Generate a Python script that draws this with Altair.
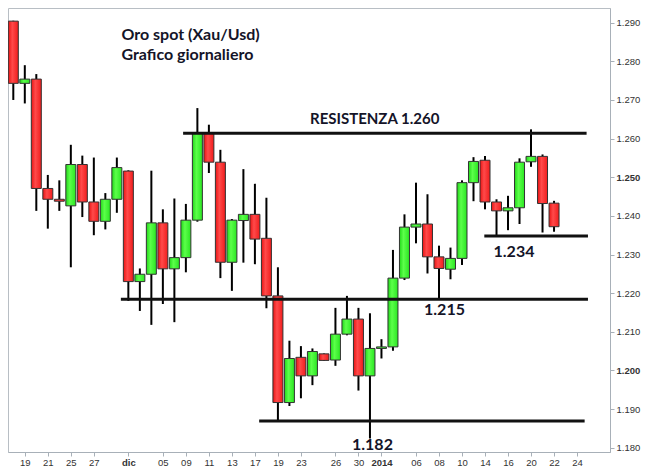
import json
import altair as alt
import pandas as pd

# ---- data ----
idx = list(range(48))
open_ = [1290.4, 1274.3, 1275.4, 1247.1, 1244.3, 1242.6, 1253.3, 1243.6, 1238.6, 1244.3,
         1251.6, 1223.0, 1224.9, 1238.2, 1226.3, 1229.2, 1238.9, 1261.4, 1253.9, 1228.0,
         1238.8, 1240.4, 1234.2, 1219.3, 1191.7, 1203.4, 1198.6, 1204.3, 1202.7, 1209.4,
         1213.3, 1198.6, 1205.7, 1206.1, 1223.9, 1237.1, 1237.9, 1229.4, 1226.2, 1229.0,
         1248.6, 1254.4, 1243.6, 1241.3, 1242.1, 1254.0, 1255.4, 1243.3]
high = [1290.5, 1279.0, 1276.7, 1250.6, 1249.2, 1258.4, 1255.6, 1255.1, 1245.9, 1255.1,
        1251.8, 1226.4, 1251.7, 1241.7, 1244.5, 1243.1, 1267.9, 1263.6, 1257.1, 1239.2,
        1252.1, 1248.3, 1244.7, 1226.7, 1207.7, 1206.3, 1205.7, 1204.4, 1216.2, 1219.3,
        1216.2, 1214.8, 1208.1, 1231.2, 1240.4, 1248.6, 1245.6, 1232.3, 1231.8, 1249.2,
        1255.2, 1255.5, 1244.3, 1245.2, 1254.9, 1262.4, 1255.9, 1243.9]
low = [1270.0, 1269.1, 1241.3, 1236.7, 1241.3, 1226.7, 1239.7, 1235.0, 1236.5, 1240.8,
       1218.0, 1215.4, 1211.8, 1217.2, 1212.5, 1225.4, 1238.5, 1251.1, 1223.9, 1220.6,
       1227.9, 1227.5, 1216.1, 1186.9, 1190.8, 1192.8, 1196.2, 1202.5, 1201.2, 1209.1,
       1194.8, 1182.4, 1203.1, 1205.1, 1223.4, 1232.9, 1225.1, 1218.5, 1223.6, 1227.3,
       1243.8, 1241.7, 1234.8, 1236.3, 1237.9, 1252.7, 1235.7, 1235.9]
close = [1274.3, 1275.4, 1247.1, 1244.3, 1243.8, 1253.3, 1243.6, 1238.6, 1244.3, 1252.5,
         1223.0, 1224.9, 1238.2, 1226.3, 1229.2, 1238.9, 1261.4, 1253.9, 1228.0, 1238.9,
         1240.4, 1234.0, 1219.3, 1191.7, 1203.1, 1198.6, 1204.9, 1202.6, 1209.4, 1213.3,
         1198.6, 1205.7, 1206.1, 1223.9, 1237.1, 1237.9, 1229.4, 1226.4, 1229.0, 1248.6,
         1254.1, 1243.6, 1241.3, 1242.1, 1253.9, 1255.4, 1243.2, 1237.2]

# x tick positions (trading-day index) and labels
tick_idx = [1, 3, 5, 7, 10, 13, 15, 17, 19, 21, 23, 25, 28, 30, 32, 35, 37, 39, 41, 43, 45, 47, 49]
tick_lab = ["19", "21", "25", "27", "dic", "05", "09", "11", "13", "17", "19", "23", "26", "30",
            "2014", "06", "08", "10", "14", "16", "20", "22", "24"]
bold_x = [10, 32]

y_ticks = [1180, 1190, 1200, 1210, 1220, 1230, 1240, 1250, 1260, 1270, 1280, 1290]
bold_y = [1200, 1250]

# support / resistance lines
line_level = [1261.4, 1218.4, 1186.9, 1234.8]
line_start = [14.76, 9.35, 21.37, 40.94]
line_end = [49.83, 49.95, 49.66, 49.95]

# annotations
title_text = ["Oro spot (Xau/Usd)", "Grafico giornaliero"]
title_x = [9.40, 9.40]
title_y = [1285.5, 1280.35]
ann_text = ["RESISTENZA 1.260", "1.215", "1.234", "1.182"]
ann_x = [25.79, 35.70, 41.74, 29.44]
ann_y = [1263.8, 1214.33, 1229.44, 1179.3]
ann_size = [15, 16, 16, 16]

df = pd.DataFrame({"i": idx, "open": open_, "high": high, "low": low, "close": close})
lines_df = pd.DataFrame({"level": line_level, "x0": line_start, "x1": line_end})
title_df = pd.DataFrame({"t": title_text, "x": title_x, "y": title_y})
ann_df = pd.DataFrame({"t": ann_text, "x": ann_x, "y": ann_y, "s": ann_size})

lab_arr = [""] * 52
for k, l in zip(tick_idx, tick_lab):
    lab_arr[k] = l

xscale = alt.Scale(domain=[-0.026, 51.43], nice=False, zero=False)
yscale = alt.Scale(domain=[1178.9, 1293.8], nice=False, zero=False)

xaxis = alt.Axis(
    values=tick_idx,
    labelExpr=json.dumps(lab_arr) + "[datum.value]",
    grid=False, title=None, domainColor="#a8b0b8", tickColor="#a8b0b8",
    tickSize=4, labelPadding=1, labelFont="Liberation Sans", labelFontSize=9.5,
    labelColor="#333333", labelAngle=0, labelOverlap=False, labelFlush=False,
    labelFontWeight={"condition": {"test": " || ".join(f"datum.value == {b}" for b in bold_x),
                                   "value": "bold"}, "value": "normal"},
)
yaxis = alt.Axis(
    orient="right", values=y_ticks,
    labelExpr="replace(format(datum.value, ','), ',', '.')",
    grid=False, title=None, domainColor="#a8b0b8", tickColor="#a8b0b8",
    tickSize=4, labelPadding=2, labelFont="Liberation Sans", labelFontSize=9.5,
    labelColor="#333333", labelOverlap=False, labelFlush=False,
    labelFontWeight={"condition": {"test": " || ".join(f"datum.value == {b}" for b in bold_y),
                                   "value": "bold"}, "value": "normal"},
)


def X(field):
    return alt.X(field, type="quantitative", scale=xscale, axis=xaxis)


def Y(field):
    return alt.Y(field, type="quantitative", scale=yscale, axis=yaxis)


base = alt.Chart(df)

wicks = base.mark_rule(color="black", strokeWidth=2).encode(
    x=X("i"), y=Y("low"), y2="high:Q")

red_grad = alt.Gradient(gradient="linear", x1=0, x2=1, y1=0, y2=0,
                        stops=[alt.GradientStop(color="#e81414", offset=0),
                               alt.GradientStop(color="#ff4a4a", offset=0.4),
                               alt.GradientStop(color="#f01c1c", offset=1)])
green_grad = alt.Gradient(gradient="linear", x1=0, x2=1, y1=0, y2=0,
                          stops=[alt.GradientStop(color="#22d81a", offset=0),
                                 alt.GradientStop(color="#5cff4a", offset=0.4),
                                 alt.GradientStop(color="#2ae622", offset=1)])

up = base.transform_filter("datum.close >= datum.open").mark_bar(
    size=10, fill=green_grad, stroke="#333333", strokeWidth=1).encode(
    x=X("i"), y=Y("open"), y2="close:Q")
down = base.transform_filter("datum.close < datum.open").mark_bar(
    size=10, fill=red_grad, stroke="#333333", strokeWidth=1).encode(
    x=X("i"), y=Y("open"), y2="close:Q")

hlines = alt.Chart(lines_df).mark_rule(color="#111111", strokeWidth=3).encode(
    x=X("x0"), x2="x1:Q", y=Y("level"))

titles = alt.Chart(title_df).mark_text(
    align="left", baseline="alphabetic", font="Lato", fontWeight="bold",
    fontSize=16, color="#141428").encode(
    x=X("x"), y=Y("y"), text="t:N")

anns = alt.Chart(ann_df).mark_text(
    align="left", baseline="alphabetic", font="Lato", fontWeight="bold",
    color="#141428").encode(
    x=X("x"), y=Y("y"), text="t:N",
    size=alt.Size("s:Q", scale=None, legend=None))

chart = alt.layer(wicks, up, down, hlines, titles, anns).properties(
    width=602, height=444,
    autosize=alt.AutoSizeParams(type="none"),
    padding={"left": 0, "top": 0, "right": 32, "bottom": 14},
    background="white",
).configure_view(stroke="#b8bec4", strokeWidth=1)

chart.save("out.html", embed_options={"renderer": "svg", "actions": False})
